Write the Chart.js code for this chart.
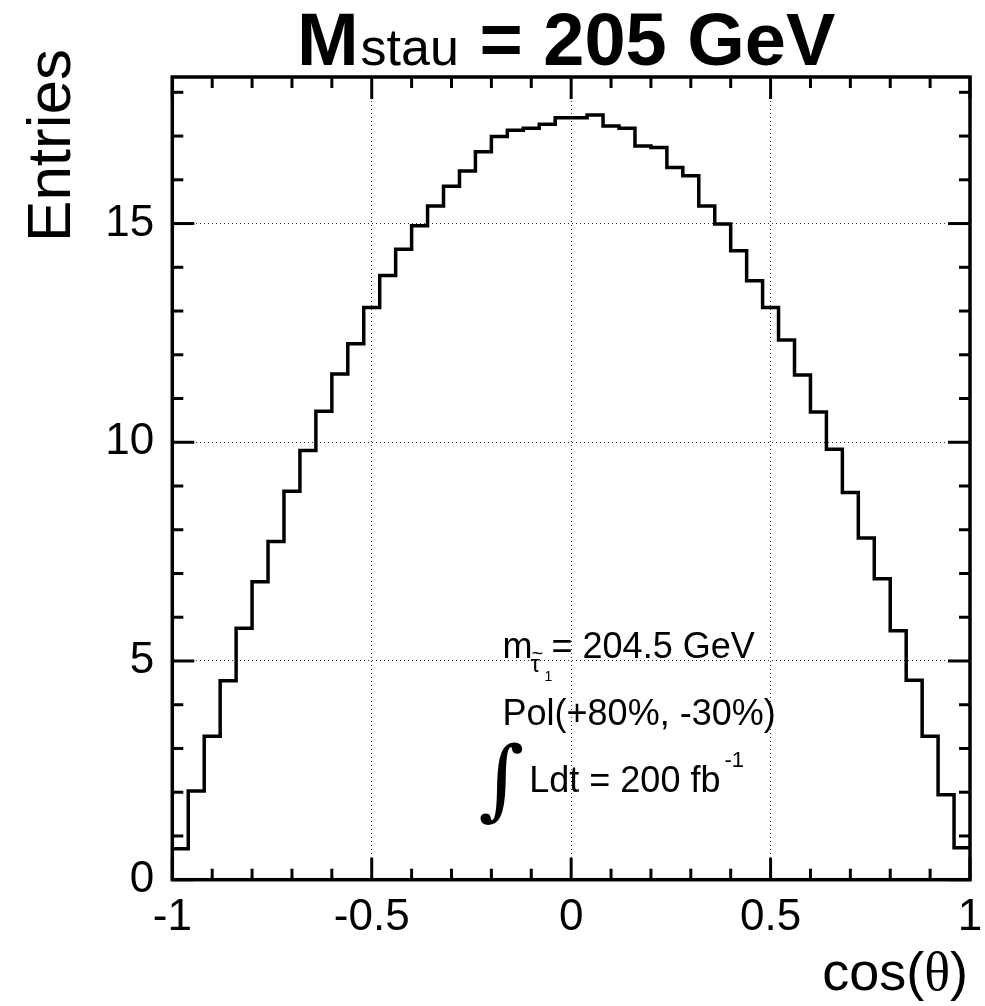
<!DOCTYPE html>
<html><head><meta charset="utf-8">
<script src="https://cdn.jsdelivr.net/npm/chart.js@4.4.1/dist/chart.umd.min.js"></script>
<style>html,body{margin:0;padding:0;background:#fff}#wrap{width:985px;height:1006px;position:relative}</style>
</head><body><div id="wrap"><canvas id="c"></canvas></div>
<script>
// ---- data ----
const xMin = -1, xMax = 1, nBins = 50;
const entries = [
  0.71, 2.03, 3.28, 4.55, 5.75, 6.81, 7.73, 8.88, 9.81, 10.71,
  11.56, 12.25, 13.08, 13.81, 14.41, 14.95, 15.40, 15.85, 16.20, 16.64,
  16.99, 17.13, 17.18, 17.27, 17.42, 17.42, 17.48, 17.23, 17.18, 16.77,
  16.74, 16.28, 16.09, 15.40, 14.99, 14.38, 13.69, 13.08, 12.34, 11.54,
  10.69, 9.84, 8.85, 7.81, 6.88, 5.69, 4.56, 3.28, 1.94, 0.73
];
const xTickValues = [-1, -0.5, 0, 0.5, 1];
const xTickLabels = ['-1', '-0.5', '0', '0.5', '1'];
const yTickValues = [0, 5, 10, 15];
const yTickLabels = ['0', '5', '10', '15'];
const yMax = 18.35;
const titleMain = 'M', titleSub = 'stau', titleRest = ' = 205 GeV';
const xTitleParts = ['cos(', '\u03B8', ')'], yTitle = 'Entries';
const massLabel = '= 204.5 GeV', polLabel = 'Pol(+80%, -30%)', lumiLabel = 'Ldt = 200 fb', lumiSup = '-1';

// ---- build step points (left edge of each bin) ----
const binW = (xMax - xMin) / nBins;
const pts = entries.map((v, i) => ({ x: xMin + i * binW, y: v }));
pts.push({ x: xMax, y: entries[entries.length - 1] });

const FONT = "'Liberation Sans', Arial, Helvetica, sans-serif";
const SERIF = "'Liberation Serif', 'DejaVu Serif', serif";

const decor = {
  id: 'decor',
  afterDatasetsDraw(chart) {
    const { ctx, chartArea: a, scales: { x, y } } = chart;
    ctx.save();
    ctx.strokeStyle = '#000';
    ctx.lineCap = 'butt';
    const line = (x1, y1, x2, y2) => { ctx.beginPath(); ctx.moveTo(x1, y1); ctx.lineTo(x2, y2); ctx.stroke(); };
    ctx.lineWidth = 3;
    for (let k = 0; k <= 20; k++) {
      const px = x.getPixelForValue(xMin + k * 0.1);
      const L = (k % 5 === 0) ? 22 : 11;
      line(px, a.bottom, px, a.bottom - L);
      line(px, a.top, px, a.top + L);
    }
    for (let k = 0; k <= 18; k++) {
      const py = y.getPixelForValue(k);
      const L = (k % 5 === 0) ? 22 : 11;
      line(a.left, py, a.left + L, py);
      line(a.right, py, a.right - L, py);
    }
    ctx.lineWidth = 3.5;
    ctx.strokeRect(a.left, a.top, a.right - a.left, a.bottom - a.top);

    ctx.fillStyle = '#000';
    // title
    ctx.textBaseline = 'alphabetic';
    ctx.textAlign = 'left';
    const fB = 'bold 74px ' + FONT, fS = '52px ' + FONT;
    ctx.font = fB; const w1 = ctx.measureText(titleMain).width, w3 = ctx.measureText(titleRest).width;
    ctx.font = fS; const w2 = ctx.measureText(titleSub).width;
    const cx = (a.left + a.right) / 2 - 6;
    let tx = cx - (w1 + w2 + w3) / 2;
    const tb = a.top - 12;
    ctx.font = fB; ctx.fillText(titleMain, tx, tb); tx += w1 + 2;
    ctx.font = fS; ctx.fillText(titleSub, tx, tb); tx += w2;
    ctx.font = fB; ctx.fillText(titleRest, tx, tb);

    // x axis title (right aligned)
    const fx = '54px ' + FONT, fth = '54px ' + SERIF;
    ctx.font = fx; const p0 = ctx.measureText(xTitleParts[0]).width, p2 = ctx.measureText(xTitleParts[2]).width;
    ctx.font = fth; const p1 = ctx.measureText(xTitleParts[1]).width;
    let xx = a.right - 2 - (p0 + p1 + p2);
    ctx.font = fx; ctx.fillText(xTitleParts[0], xx, 990); xx += p0;
    ctx.font = fth; ctx.fillText(xTitleParts[1], xx, 990); xx += p1;
    ctx.font = fx; ctx.fillText(xTitleParts[2], xx, 990);

    // y axis title
    ctx.save();
    ctx.translate(70, a.top - 28);
    ctx.rotate(-Math.PI / 2);
    ctx.font = '62px ' + FONT;
    ctx.textAlign = 'right';
    ctx.fillText(yTitle, 0, 0);
    ctx.restore();

    // annotations (anchored in data coordinates)
    ctx.textAlign = 'left';
    const ax = x.getPixelForValue(-0.172);
    const b1 = y.getPixelForValue(5.06);
    ctx.font = '36px ' + FONT;
    ctx.fillText('m', ax, b1);
    ctx.font = '24px ' + FONT;
    ctx.fillText('\u03C4', ax + 28, b1 + 14);
    ctx.font = '20px ' + FONT;
    ctx.fillText('~', ax + 29, b1 + 2);
    ctx.font = '14px ' + FONT;
    ctx.fillText('1', ax + 42, b1 + 23);
    ctx.font = '36px ' + FONT;
    ctx.fillText(massLabel, ax + 49, b1);

    const b2 = y.getPixelForValue(3.53);
    ctx.fillText(polLabel, ax, b2);

    const b3 = y.getPixelForValue(2.01);
    const lx = x.getPixelForValue(-0.105);
    ctx.fillText(lumiLabel, lx, b3);
    const lw = ctx.measureText(lumiLabel).width;
    ctx.font = '22px ' + FONT;
    ctx.fillText(lumiSup, lx + lw + 4, b3 - 25);
    // integral sign
    ctx.font = 'italic 88px "DejaVu Serif", "Liberation Serif", serif';
    ctx.textAlign = 'center';
    ctx.textBaseline = 'middle';
    ctx.fillText('\u222B', x.getPixelForValue(-0.175), y.getPixelForValue(2.15));
    ctx.restore();
  }
};

new Chart(document.getElementById('c'), {
  type: 'line',
  data: {
    datasets: [{
      data: pts,
      stepped: true,
      borderColor: '#000',
      borderWidth: 3.5,
      pointRadius: 0,
      fill: false,
      borderJoinStyle: 'miter'
    }]
  },
  options: {
    responsive: true,
    maintainAspectRatio: false,
    animation: false,
    devicePixelRatio: 1,
    layout: { padding: { left: 0, right: 15, top: 77, bottom: 0 } },
    plugins: { legend: { display: false }, tooltip: { enabled: false }, title: { display: false } },
    scales: {
      x: {
        type: 'linear', min: xMin, max: xMax,
        afterBuildTicks: s => { s.ticks = xTickValues.map(v => ({ value: v })); },
        afterFit: s => { s.height = 126.3; s.paddingLeft = 0; s.paddingRight = 0; },
        ticks: {
          autoSkip: false, maxRotation: 0, padding: 12, color: '#000',
          font: { family: FONT, size: 44 },
          callback: (v) => xTickLabels[xTickValues.indexOf(v)]
        },
        grid: { color: '#333', lineWidth: 1, drawTicks: false },
        border: { display: false, dash: [1, 3] }
      },
      y: {
        type: 'linear', min: 0, max: yMax,
        afterBuildTicks: s => { s.ticks = yTickValues.map(v => ({ value: v })); },
        afterFit: s => { s.width = 172.3; s.paddingTop = 0; s.paddingBottom = 0; },
        ticks: {
          autoSkip: false, padding: 18, color: '#000',
          font: { family: FONT, size: 44 },
          callback: (v) => yTickLabels[yTickValues.indexOf(v)]
        },
        grid: { color: '#333', lineWidth: 1, drawTicks: false },
        border: { display: false, dash: [1, 3] }
      }
    }
  },
  plugins: [decor]
});
</script>
</body></html>
